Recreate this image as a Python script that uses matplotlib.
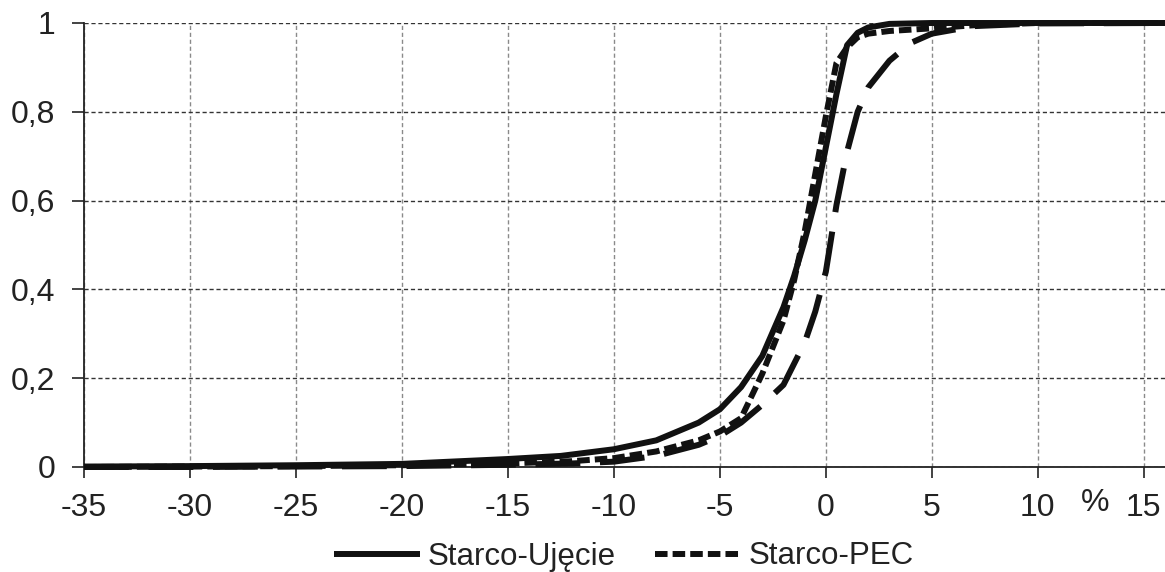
import matplotlib
matplotlib.use("Agg")
import matplotlib.pyplot as plt

plt.rcParams['font.family'] = ['Liberation Sans', 'DejaVu Sans']

# --- data ---
x_ujecie = [-35, -30, -25, -20, -15, -12.5, -10, -8, -6, -5, -4, -3, -2, -1.5, -1, -0.5, 0, 0.5, 1, 1.5, 2, 3, 5, 10, 16]
y_ujecie = [0.001, 0.002, 0.004, 0.007, 0.018, 0.025, 0.04, 0.06, 0.10, 0.13, 0.18, 0.25, 0.36, 0.43, 0.51, 0.60, 0.72, 0.84, 0.95, 0.978, 0.99, 0.998, 1.0, 1.0, 1.0]

x_pec = [-35, -30, -25, -20, -15, -12, -10, -8, -6, -5, -4, -3, -2, -1.5, -1, -0.5, 0, 0.5, 1, 1.5, 2, 3, 5, 7, 10, 16]
y_pec = [0.0, 0.001, 0.002, 0.004, 0.008, 0.013, 0.02, 0.035, 0.06, 0.08, 0.11, 0.21, 0.33, 0.42, 0.53, 0.66, 0.79, 0.91, 0.945, 0.968, 0.976, 0.982, 0.988, 0.995, 1.0, 1.0]

x_third = [-35, -30, -25, -20, -15, -12, -10, -8, -6, -5, -4, -3, -2, -1, -0.5, 0, 0.5, 1, 1.5, 2, 3, 4, 5, 7, 10, 16]
y_third = [0.0, 0.0, 0.001, 0.002, 0.005, 0.008, 0.012, 0.025, 0.05, 0.07, 0.10, 0.14, 0.185, 0.28, 0.35, 0.44, 0.59, 0.71, 0.80, 0.855, 0.915, 0.955, 0.976, 0.993, 0.999, 1.0]

x_ticks = [-35, -30, -25, -20, -15, -10, -5, 0, 5, 10, 15]
y_ticks = [0, 0.2, 0.4, 0.6, 0.8, 1.0]
y_labels = ["0", "0,2", "0,4", "0,6", "0,8", "1"]
label_ujecie = "Starco-Ujęcie"
label_pec = "Starco-PEC"
unit_label = "%"

fig = plt.figure(figsize=(11.65, 5.72), dpi=100)
ax = fig.add_axes([84 / 1165, 1 - 467 / 572, 1 - 84 / 1165, (467 - 23) / 572])

lw = 4.3
l1, = ax.plot(x_ujecie, y_ujecie, color='#111111', lw=lw, solid_capstyle='butt',
              solid_joinstyle='round', label=label_ujecie, clip_on=False, zorder=4)
l2, = ax.plot(x_pec, y_pec, color='#111111', lw=lw, dash_capstyle='butt',
              dash_joinstyle='round', label=label_pec, clip_on=False, zorder=4)
l2.set_dashes((2.1, 0.85))
l3, = ax.plot(x_third, y_third, color='#111111', lw=lw, dash_capstyle='butt',
              dash_joinstyle='round', clip_on=False, zorder=4)
l3.set_dashes((7.5, 3.3))

ax.set_xlim(-35, 16)
ax.set_ylim(0, 1)
ax.set_xticks(x_ticks)
ax.set_xticklabels([str(v) for v in x_ticks])
ax.set_yticks(y_ticks)
ax.set_yticklabels(y_labels)

for s in ['top', 'right']:
    ax.spines[s].set_visible(False)
for s in ['left', 'bottom']:
    ax.spines[s].set_color('#222222')
    ax.spines[s].set_linewidth(1.3)

ax.tick_params(axis='x', direction='out', length=8, width=1.2, pad=11,
               labelsize=23, colors='#222222')
ax.tick_params(axis='y', direction='out', length=8.5, width=1.2, pad=12,
               labelsize=23, colors='#222222')

ax.xaxis.grid(True, color='#8a8a8a', lw=1.0, linestyle=(0, (3, 2)))
ax.yaxis.grid(True, color='#333333', lw=1.0, linestyle=(0, (3, 2)))
ax.set_axisbelow(True)

ax.text(12.7, -0.08, unit_label, ha='center', va='center', fontsize=23,
        color='#222222', transform=ax.transData, clip_on=False)

fig.legend(handles=[l1, l2], labels=[label_ujecie, label_pec],
           loc='center left', bbox_to_anchor=(334 / 1165, 1 - 556.5 / 572),
           ncol=2, frameon=False, fontsize=22.5, handlelength=2.75,
           handletextpad=0.25, columnspacing=1.25, borderpad=0, borderaxespad=0,
           labelcolor='#222222')

fig.savefig("out.png", dpi=100)
